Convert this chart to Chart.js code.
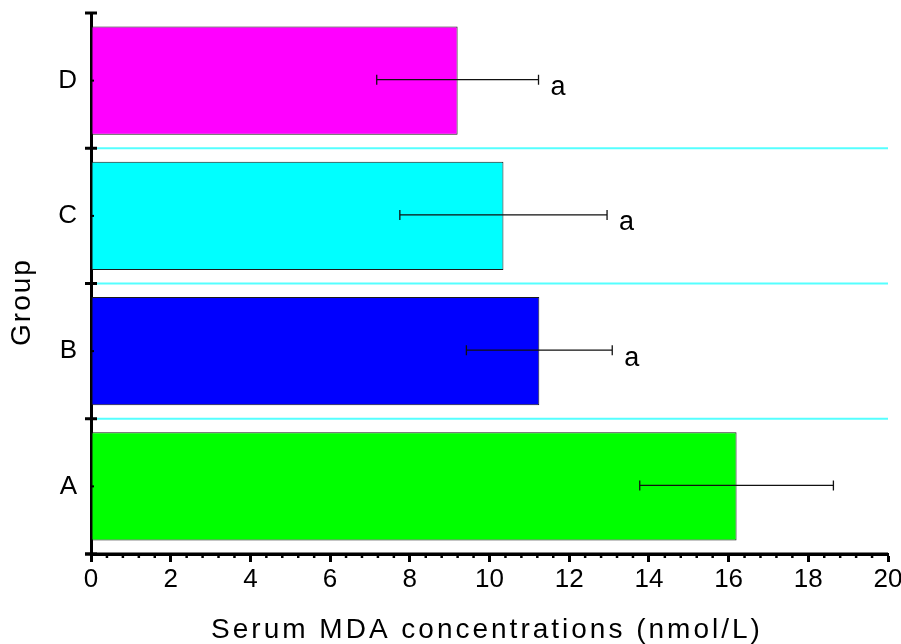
<!DOCTYPE html>
<html>
<head>
<meta charset="utf-8">
<script src="https://cdn.jsdelivr.net/npm/chart.js@4.4.1/dist/chart.umd.min.js"></script>
<style>
  html, body { margin: 0; padding: 0; background: #ffffff; }
  #wrap { width: 901px; height: 644px; }
</style>
</head>
<body>
<div id="wrap"><canvas id="c" width="901" height="644"></canvas></div>
<script>
// ---- data ----
const groups = ['A', 'B', 'C', 'D'];
const meanMDA = [16.2, 11.25, 10.35, 9.2];
const sdMDA = [2.43, 1.83, 2.6, 2.03];
const sigLetters = ['', 'a', 'a', 'a'];
const barColors = ['#00ff00', '#0000ff', '#00ffff', '#ff00ff'];
const xTickStep = 2;
const xMin = 0, xMax = 20;
const xTitle = 'Serum MDA concentrations (nmol/L)';
const yTitle = 'Group';

const FONT = '"Liberation Sans", Arial, Helvetica, sans-serif';

const extras = {
  id: 'extras',
  beforeDatasetsDraw(chart) {
    const ctx = chart.ctx, y = chart.scales.y, ca = chart.chartArea;
    ctx.save();
    ctx.strokeStyle = '#55ffff';
    ctx.lineWidth = 2;
    for (let i = 0; i < groups.length - 1; i++) {
      const py = (y.getPixelForValue(i) + y.getPixelForValue(i + 1)) / 2;
      ctx.beginPath();
      ctx.moveTo(ca.left + 2, py);
      ctx.lineTo(ca.right, py);
      ctx.stroke();
    }
    ctx.restore();
  },
  afterDatasetsDraw(chart) {
    const ctx = chart.ctx, x = chart.scales.x, y = chart.scales.y, ca = chart.chartArea;
    ctx.save();
    // error bars
    ctx.strokeStyle = '#111';
    ctx.lineWidth = 1.3;
    groups.forEach((g, i) => {
      const py = y.getPixelForValue(i) - 1;
      const x1 = x.getPixelForValue(meanMDA[i] - sdMDA[i]);
      const x2 = x.getPixelForValue(meanMDA[i] + sdMDA[i]);
      ctx.beginPath();
      ctx.moveTo(x1, py); ctx.lineTo(x2, py);
      ctx.moveTo(x1, py - 5); ctx.lineTo(x1, py + 5);
      ctx.moveTo(x2, py - 5); ctx.lineTo(x2, py + 5);
      ctx.stroke();
      if (sigLetters[i]) {
        ctx.fillStyle = '#000';
        ctx.font = '27px ' + FONT;
        ctx.textAlign = 'left';
        ctx.textBaseline = 'middle';
        ctx.fillText(sigLetters[i], x2 + 12, py + 8);
      }
    });
    // axis extensions and ticks
    ctx.strokeStyle = '#000';
    ctx.fillStyle = '#000';
    ctx.lineWidth = 3;
    ctx.beginPath();
    ctx.moveTo(ca.left - 6, ca.bottom);
    ctx.lineTo(ca.right, ca.bottom);
    ctx.stroke();
    // y major ticks at category boundaries (both sides)
    for (let i = 0; i <= groups.length; i++) {
      const py = y.getPixelForValue(i - 0.5);
      ctx.beginPath();
      ctx.moveTo(ca.left - 6, py);
      ctx.lineTo(ca.left + 6, py);
      ctx.stroke();
    }
    // y minor ticks at category centres
    ctx.lineWidth = 2;
    groups.forEach((g, i) => {
      const py = y.getPixelForValue(i);
      ctx.beginPath();
      ctx.moveTo(ca.left, py);
      ctx.lineTo(ca.left + 3, py);
      ctx.stroke();
    });
    // x minor ticks
    ctx.lineWidth = 2.5;
    for (let k = 0; k <= Math.round((xMax - xMin) / 0.4); k++) {
      if (k % 5 === 0) continue;
      const px = x.getPixelForValue(xMin + k * 0.4);
      ctx.beginPath();
      ctx.moveTo(px, ca.bottom);
      ctx.lineTo(px, ca.bottom + 4);
      ctx.stroke();
    }
    // x title
    ctx.save();
    ctx.font = '28px ' + FONT;
    ctx.letterSpacing = '3px';
    ctx.textAlign = 'center';
    ctx.textBaseline = 'middle';
    ctx.fillText(xTitle, 487, 630);
    ctx.restore();
    // y title
    ctx.save();
    ctx.translate(22, 302);
    ctx.rotate(-Math.PI / 2);
    ctx.font = '28px ' + FONT;
    ctx.letterSpacing = '2px';
    ctx.textAlign = 'center';
    ctx.textBaseline = 'middle';
    ctx.fillText(yTitle, 0, 0);
    ctx.restore();
    ctx.restore();
  }
};

new Chart(document.getElementById('c'), {
  type: 'bar',
  data: {
    labels: groups,
    datasets: [{
      data: meanMDA,
      backgroundColor: barColors,
      borderColor: '#1a1a1a',
      borderWidth: 1,
      borderSkipped: false,
      barPercentage: 0.8,
      categoryPercentage: 1.0
    }]
  },
  options: {
    indexAxis: 'y',
    responsive: false,
    animation: false,
    devicePixelRatio: 1,
    layout: { padding: { top: 13, right: 13, left: 0, bottom: 0 } },
    plugins: { legend: { display: false }, tooltip: { enabled: false } },
    scales: {
      x: {
        type: 'linear',
        min: xMin, max: xMax,
        afterFit(s) { s.height = 90; s.paddingLeft = 0; s.paddingRight = 0; },
        border: { display: true, color: '#000', width: 3 },
        grid: { display: true, drawOnChartArea: false, drawTicks: true, tickLength: 8, tickWidth: 3, tickColor: '#000' },
        ticks: { stepSize: xTickStep, color: '#000', font: { family: FONT, size: 26 }, padding: 2, maxRotation: 0 },
        title: { display: false }
      },
      y: {
        type: 'category',
        reverse: true,
        afterFit(s) { s.width = 91; s.paddingTop = 0; s.paddingBottom = 0; },
        border: { display: true, color: '#000', width: 3 },
        grid: { display: false },
        ticks: { color: '#000', font: { family: FONT, size: 26 }, padding: 6 }
      }
    }
  },
  plugins: [extras]
});
</script>
</body>
</html>
